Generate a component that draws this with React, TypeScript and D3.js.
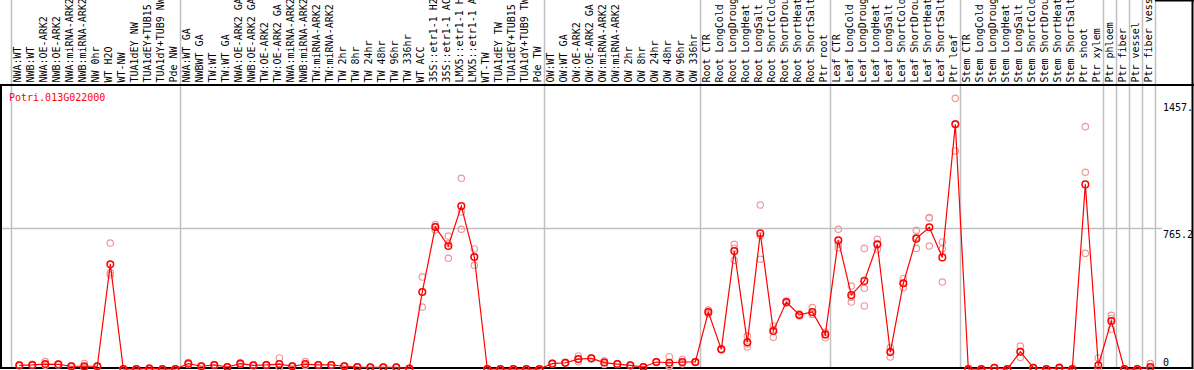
import React from "react";
import * as d3 from "d3";

const title = "Potri.013G022000";

const categories: string[] = [
  "NWA:WT", "NWB:WT", "NWA:OE-ARK2", "NWB:OE-ARK2", "NWA:miRNA-ARK2", "NWB:miRNA-ARK2",
  "NW 0hr", "WT H2O", "WT-NW", "TUA1dEY NW", "TUA1dEY+TUB15 NW", "TUA1dY+TUB9 NW", "Pde NW",
  "NWA:WT GA", "NWBWT GA", "TW:WT", "TW:WT GA", "NWA:OE-ARK2 GA", "NWB:OE-ARK2 GA",
  "TW:OE-ARK2", "TW:OE-ARK2 GA", "NWA:miRNA-ARK2", "NWB:miRNA-ARK2", "TW:miRNA-ARK2",
  "TW:miRNA-ARK2", "TW 2hr", "TW 8hr", "TW 24hr", "TW 48hr", "TW 96hr", "TW 336hr", "WT ACC",
  "35S::etr1-1 H2O", "35S::etr1-1 ACC", "LMX5::etr1-1 H2O", "LMX5::etr1-1 ACC", "WT-TW",
  "TUA1dEY TW", "TUA1dEY+TUB15 TW", "TUA1dY+TUB9 TW", "Pde TW",
  "OW:WT", "OW:WT GA", "OW:OE-ARK2", "OW:OE-ARK2 GA", "OW:miRNA-ARK2", "OW:miRNA-ARK2",
  "OW 2hr", "OW 8hr", "OW 24hr", "OW 48hr", "OW 96hr", "OW 336hr",
  "Root CTR", "Root LongCold", "Root LongDrought", "Root LongHeat", "Root LongSalt",
  "Root ShortCold", "Root ShortDrought", "Root ShortHeat", "Root ShortSalt", "Ptr root",
  "Leaf CTR", "Leaf LongCold", "Leaf LongDrought", "Leaf LongHeat", "Leaf LongSalt",
  "Leaf ShortCold", "Leaf ShortDrought", "Leaf ShortHeat", "Leaf ShortSalt", "Ptr leaf",
  "Stem CTR", "Stem LongCold", "Stem LongDrought", "Stem LongHeat", "Stem LongSalt",
  "Stem ShortCold", "Stem ShortDrought", "Stem ShortHeat", "Stem ShortSalt", "Ptr shoot",
  "Ptr xylem", "Ptr phloem", "Ptr fiber", "Ptr vessel", "Ptr fiber vessel",
];

const means: number[] = [
  20, 22, 27, 25, 15, 15, 15, 570, 0, 0, 3, 0, 0,
  29, 15, 22, 11, 29, 20, 22, 27, 15, 27, 22, 22, 15, 11, 9, 9, 9, 2, 419,
  772, 669, 886, 609, 0, 0, 0, 0, 0,
  29, 34, 54, 58, 35, 27, 20, 11, 38, 34, 38, 38,
  310, 107, 642, 145, 738, 207, 364, 294, 310, 187,
  700, 402, 479, 678, 92, 466, 709, 771, 607, 1331,
  0, 0, 7, 0, 94, 7, 0, 7, 0, 1004,
  20, 261, 0, 0, 11,
];

const replicates: number[][] = [
  [18, 22, 20], [20, 25, 22], [40, 22, 20], [25, 27, 22], [15, 13, 17], [30, 10, 6],
  [15, 14, 16], [685, 524, 511], [0, 0, 0], [0, 0, 0], [5, 2, 1], [0, 0, 0], [0, 0, 0],
  [35, 27, 25], [15, 13, 17], [24, 20, 22], [11, 10, 12], [34, 27, 26], [20, 18, 22],
  [22, 20, 24], [60, 12, 9], [15, 14, 16], [40, 22, 19], [22, 20, 24], [22, 21, 23],
  [15, 14, 16], [11, 10, 12], [9, 8, 10], [9, 8, 10], [9, 8, 10], [2, 1, 3], [500, 419, 337],
  [785, 775, 756], [723, 682, 602], [1037, 854, 760], [653, 610, 564], [0, 0, 0],
  [0, 0, 0], [0, 0, 0], [0, 0, 0], [0, 0, 0],
  [29, 27, 31], [36, 32, 34], [71, 52, 40], [60, 56, 58], [45, 35, 25], [27, 25, 29],
  [20, 18, 22], [11, 10, 12], [38, 36, 40], [67, 20, 15], [52, 34, 28], [38, 35, 41],
  [320, 310, 300], [107, 105, 109], [678, 657, 591], [179, 136, 120], [892, 725, 597],
  [234, 215, 172], [370, 364, 358], [300, 294, 288], [334, 300, 296], [200, 190, 170],
  [760, 680, 660], [451, 390, 364], [656, 439, 343], [705, 678, 651], [116, 95, 65],
  [491, 466, 442], [754, 716, 656], [821, 823, 669], [691, 654, 473], [1472, 1335, 1186],
  [0, 0, 0], [0, 0, 0], [7, 6, 8], [0, 0, 0], [125, 95, 62], [7, 6, 8], [0, 0, 0],
  [7, 10, 4], [0, 0, 0], [1318, 1070, 629],
  [60, 0, 0], [292, 275, 216], [0, 0, 0], [0, 0, 0], [29, 4, 0],
];

// indices (count of columns) after which a vertical separator is drawn
const separators: number[] = [0, 13, 41, 53, 63, 73, 84, 85, 86, 87, 88];

const tickValues: number[] = [0, 765.2, 1457];
const tickLabels: string[] = ["0", "765.2", "1457."];
const gridValues: number[] = [765.2];

const W = 1194;
const H = 370;
const FONT = "'DejaVu Sans Mono', monospace";

export default function App() {
  const x = d3
    .scaleBand<number>()
    .domain(d3.range(categories.length))
    .range([11, 1155])
    .paddingInner(0)
    .paddingOuter(0);
  const bw = x.bandwidth();
  const px = (i: number) => (x(i) as number) + bw * 0.64;
  const y = d3.scaleLinear().domain([0, 1530.4]).range([369, 87.6]);

  const line = d3
    .line<number>()
    .x((_, i) => px(i))
    .y((d) => y(d));

  const sepX = (k: number) => (k === 0 ? x.range()[0] : (x(k - 1) as number) + bw);

  return (
    <svg
      width={W}
      height={H}
      style={{ position: "absolute", left: 0, top: 0, background: "#fff" }}
      fontFamily={FONT}
      fontSize={10}
    >
      <rect x={0} y={0} width={W} height={H} fill="#fff" />
      {/* vertical separators */}
      {separators.map((k) => (
        <line
          key={"s" + k}
          x1={sepX(k) + 0.5}
          x2={sepX(k) + 0.5}
          y1={0}
          y2={368}
          stroke="#c0c0c0"
          strokeWidth={1.5}
        />
      ))}
      {/* horizontal grid */}
      {gridValues.map((v) => (
        <line
          key={"g" + v}
          x1={2}
          x2={1162}
          y1={Math.round(y(v)) + 0.5}
          y2={Math.round(y(v)) + 0.5}
          stroke="#c0c0c0"
          strokeWidth={1.5}
        />
      ))}
      {/* category labels */}
      {categories.map((c, i) => (
        <text
          key={"c" + i}
          transform={`translate(${(x(i) as number) + 10},82.5) rotate(-90)`}
          fill="#000"
        >
          {c}
        </text>
      ))}
      {/* borders */}
      <line x1={0} x2={W} y1={85} y2={85} stroke="#000" strokeWidth={2} />
      <line x1={0} x2={1193} y1={368} y2={368} stroke="#000" strokeWidth={2} />
      <line x1={1} x2={1} y1={84} y2={369} stroke="#000" strokeWidth={2} />
      <line x1={1192.5} x2={1192.5} y1={0} y2={369} stroke="#000" strokeWidth={2} />
      <line x1={1155} x2={W} y1={0.5} y2={0.5} stroke="#000" strokeWidth={2} />
      {/* title */}
      <text x={9} y={101} fill="#ff0000">
        {title}
      </text>
      {/* right axis labels */}
      {tickValues.map((v, i) => (
        <text key={"t" + v} x={1163} y={Math.min(y(v) + 9.5, 366)} fill="#000">
          {tickLabels[i]}
        </text>
      ))}
      {/* replicates */}
      {replicates.map((reps, i) =>
        reps.map((r, j) => (
          <circle
            key={`r${i}-${j}`}
            cx={px(i)}
            cy={y(r)}
            r={3.2}
            fill="none"
            stroke="#ee9999"
            strokeWidth={1.2}
          />
        ))
      )}
      {/* mean line */}
      <path d={line(means) as string} fill="none" stroke="#ff0000" strokeWidth={1.2} />
      {means.map((m, i) => (
        <circle
          key={"m" + i}
          cx={px(i)}
          cy={y(m)}
          r={3.3}
          fill="none"
          stroke="#ff0000"
          strokeWidth={1.5}
        />
      ))}
    </svg>
  );
}
